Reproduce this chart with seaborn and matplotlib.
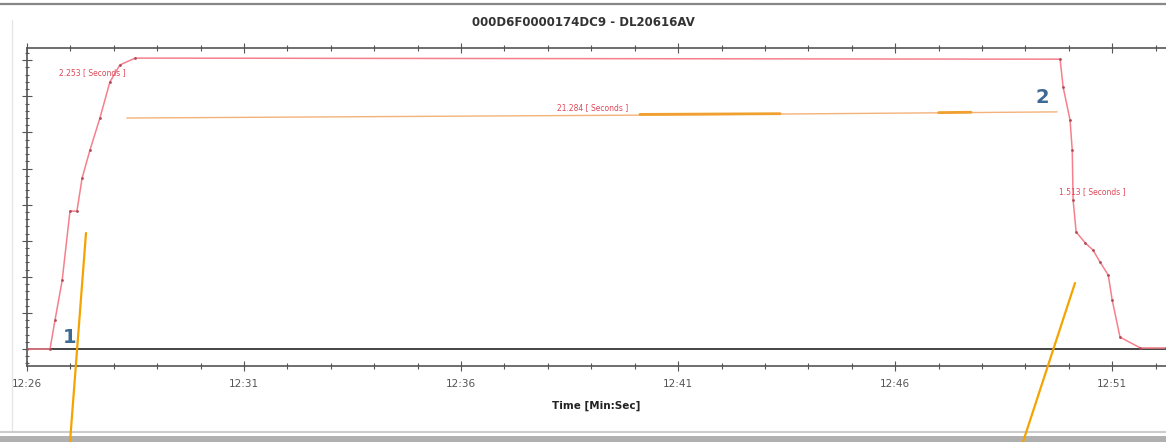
import matplotlib
matplotlib.use("Agg")
import matplotlib.pyplot as plt
import matplotlib.lines as mlines
from matplotlib.ticker import MultipleLocator, FixedLocator
import seaborn as sns
import pandas as pd

# ---- data (x in minutes after 12:26, y in arbitrary level units) ----
red_minutes = [0.0, 0.53, 0.645, 0.81, 0.99, 1.15, 1.27, 1.45, 1.68, 1.91, 2.14, 2.49,
               23.80, 23.87, 24.03, 24.08, 24.10, 24.17, 24.38, 24.56, 24.72, 24.91,
               25.00, 25.18, 25.65, 26.24]
red_values = [0.0, 0.0, 0.8, 1.9, 3.82, 3.82, 4.74, 5.51, 6.4, 7.4, 7.87, 8.06,
              8.03, 7.26, 6.34, 5.51, 4.13, 3.24, 2.94, 2.74, 2.41, 2.05,
              1.36, 0.33, 0.03, 0.03]
orange_minutes = [2.30, 14.12, 23.73]
orange_values = [6.40, 6.48, 6.57]
orange_thick_a_minutes = [14.12, 17.35]
orange_thick_a_values = [6.50, 6.52]
orange_thick_b_minutes = [21.0, 21.75]
orange_thick_b_values = [6.55, 6.56]

tick_labels = ["12:26", "12:31", "12:36", "12:41", "12:46", "12:51"]
title = "000D6F0000174DC9 - DL20616AV"
xlabel = "Time [Min:Sec]"
annotations = [("2.253 [ Seconds ]", 1.50, 7.67),
               ("21.284 [ Seconds ]", 13.04, 6.70),
               ("1.513 [ Seconds ]", 24.54, 4.35)]
markers_text = [("1", 0.99, 0.33), ("2", 23.39, 6.98)]

sns.set_style("white")
plt.rcParams['font.family'] = ['DejaVu Sans']

fig = plt.figure(figsize=(11.66, 4.42), dpi=100)
ax = fig.add_axes([27/1166, 1-366/442, 1-27/1166, (366-48)/442])

red_df = pd.DataFrame({"m": red_minutes, "v": red_values})
org_df = pd.DataFrame({"m": orange_minutes, "v": orange_values})

ax.axhline(0, color="#444444", lw=1.4, zorder=1)
sns.lineplot(data=org_df, x="m", y="v", ax=ax, color="#f3b27a", lw=1.0, sort=False, zorder=2)
sns.lineplot(x=orange_thick_a_minutes, y=orange_thick_a_values, ax=ax, color="#f0a030", lw=2.0, zorder=2)
sns.lineplot(x=orange_thick_b_minutes, y=orange_thick_b_values, ax=ax, color="#f0a030", lw=2.0, zorder=2)
sns.lineplot(data=red_df, x="m", y="v", ax=ax, color="#f5808c", lw=1.1, sort=False,
             marker="o", markersize=2.0, markerfacecolor="#b04a58", markeredgewidth=0, zorder=3)

for txt, x, y in annotations:
    ax.text(x, y, txt, color="#e04858", fontsize=5.5, ha="center", va="center", zorder=4)
for txt, x, y in markers_text:
    ax.text(x, y, txt, color="#3d6a94", fontsize=14, fontweight="bold",
            ha="center", va="center", zorder=4)

ax.set_xlim(0, 26.24)
ax.set_ylim(-0.47, 8.34)
ax.xaxis.set_major_locator(FixedLocator([0, 5, 10, 15, 20, 25]))
ax.set_xticklabels(tick_labels)
ax.xaxis.set_minor_locator(MultipleLocator(1))
ax.yaxis.set_major_locator(MultipleLocator(1))
ax.yaxis.set_minor_locator(MultipleLocator(0.2))
ax.set_yticklabels([])
ax.tick_params(axis="x", which="major", direction="inout", length=7, width=0.8,
               colors="#555555", labelsize=7.5, labelcolor="#555555", pad=6,
               top=True, bottom=True)
ax.tick_params(axis="x", which="minor", direction="inout", length=4, width=0.8,
               colors="#555555", top=True, bottom=True)
ax.tick_params(axis="y", which="major", direction="inout", length=7, width=0.8,
               colors="#555555", left=True)
ax.tick_params(axis="y", which="minor", direction="inout", length=3, width=0.8,
               colors="#555555", left=True)
ax.set_xlabel(xlabel, fontsize=7.5, fontweight="bold", color="#222222", labelpad=8)
ax.set_ylabel("")
for s in ["left", "top", "bottom"]:
    ax.spines[s].set_color("#555555")
    ax.spines[s].set_linewidth(1.2)
ax.spines["right"].set_visible(False)

fig.text(583/1166, 1-22/442, title, ha="center", va="center", fontsize=8.5,
         fontweight="bold", color="#333333")

# window borders
def fl(x0, y0, x1, y1, **kw):
    fig.add_artist(mlines.Line2D([x0/1166, x1/1166], [1-y0/442, 1-y1/442], **kw))

fl(0, 4, 1166, 4, color="#888888", lw=1.6)
fl(12, 20, 12, 430, color="#e6e6e6", lw=1.0)
fl(0, 432, 1166, 432, color="#cccccc", lw=1.5)
fl(0, 439, 1166, 439, color="#b0b0b0", lw=5)
# orange callout leaders
fl(86, 233, 70, 442, color="#f5a300", lw=1.6)
fl(1075, 283, 1023, 442, color="#f5a300", lw=1.6)

fig.savefig("out.png", dpi=100)
